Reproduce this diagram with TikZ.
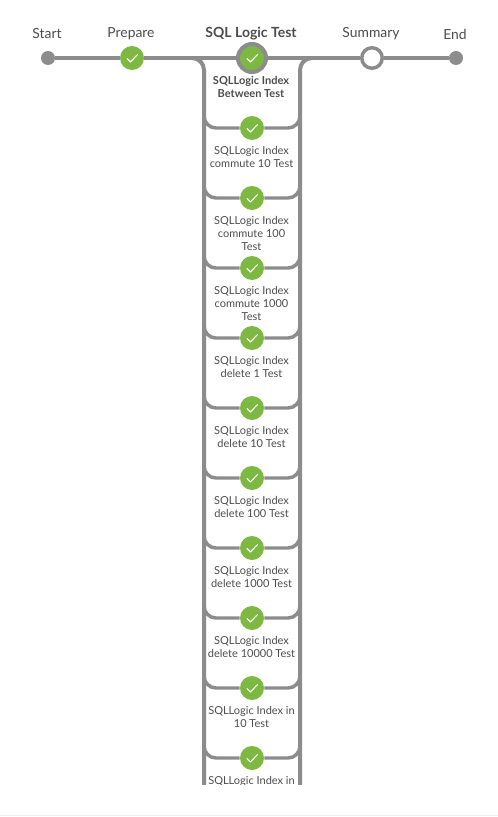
\documentclass[tikz,border=0pt]{standalone}
\usepackage{fontspec}
\setmainfont{Lato}
\usetikzlibrary{positioning}
\definecolor{pipegray}{HTML}{8C8C8C}
\definecolor{passgreen}{HTML}{7DB843}
\definecolor{textgray}{HTML}{4D4D4D}
\tikzset{
  pipeline/.style={draw=pipegray,line width=2.6pt},
  rail/.style={draw=pipegray,line width=3pt,rounded corners=9pt},
  branch/.style={draw=pipegray,line width=2.6pt,rounded corners=9pt},
  endpoint/.style={circle,fill=pipegray,inner sep=0pt,minimum size=10.5pt},
  passed/.style={circle,fill=passgreen,inner sep=0pt,minimum size=18pt},
  current/.style={circle,fill=passgreen,draw=pipegray,line width=3pt,inner sep=0pt,minimum size=21pt},
  pending/.style={circle,fill=white,draw=pipegray,line width=2.6pt,inner sep=0pt,minimum size=15.4pt},
  tick/.style={draw=white,line width=.8pt,line cap=round,line join=round},
  stagename/.style={text=textgray,font=\fontsize{10.4}{12}\selectfont},
  stepname/.style={text=textgray,align=center,anchor=north,font=\fontsize{8.25}{9.75}\selectfont}
}
\begin{document}
\begin{tikzpicture}[x=.75pt,y=-.75pt]
  \useasboundingbox (0,0) rectangle (498,817);
  \draw[black!6,line width=.75pt] (0,815.5) -- (498,815.5);
  % top row
  \node[endpoint] (start) at (48,58) {};
  \node[passed] (prepare) at (132,58) {};
  \node[current] (sqltest) at (252,58) {};
  \node[pending] (summary) at (372,58) {};
  \node[endpoint] (end) at (456,58) {};
  \node[stagename] at (47,34) {Start};
  \node[stagename] at (131,34) {Prepare};
  \node[stagename,font=\fontsize{10.5}{12}\selectfont\bfseries] at (251,33.5) {SQL Logic Test};
  \node[stagename] at (371,34) {Summary};
  \node[stagename] at (455,34) {End};
  \draw[pipeline] (start) -- (prepare);
  \draw[pipeline] (prepare) -- (sqltest);
  \draw[pipeline] (sqltest) -- (summary);
  \draw[pipeline] (summary) -- (end);
  \begin{scope}
    \clip (0,0) rectangle (498,784);
    \coordinate (leftjoin) at (192,58);
    \coordinate (rightjoin) at (312,58);
    \draw[rail] (leftjoin) -| (204,790);
    \draw[rail] (rightjoin) -| (300,790);
    \node[stepname,font=\fontsize{8.25}{9.75}\selectfont\bfseries] at (251,72) {SQLLogic Index\\Between Test};
    \foreach \i/\y/\txt in {1/128/{SQLLogic Index\\commute 10 Test},
        2/198/{SQLLogic Index\\commute 100\\Test},
        3/268/{SQLLogic Index\\commute 1000\\Test},
        4/338/{SQLLogic Index\\delete 1 Test},
        5/408/{SQLLogic Index\\delete 10 Test},
        6/478/{SQLLogic Index\\delete 100 Test},
        7/548/{SQLLogic Index\\delete 1000 Test},
        8/618/{SQLLogic Index\\delete 10000 Test},
        9/688/{SQLLogic Index in\\10 Test},
        10/758/{SQLLogic Index in}} {
      \node[passed] (n\i) at (252,\y) {};
      \coordinate (lb\i) at (204,\y-30);
      \coordinate (rb\i) at (300,\y-30);
      \draw[branch] (n\i) -| (lb\i);
      \draw[branch] (n\i) -| (rb\i);
      \draw[tick] ([shift={(-5,0.5)}]n\i.center) -- ([shift={(-1.5,4)}]n\i.center) -- ([shift={(5.5,-3.5)}]n\i.center);
      \node[stepname] at (251.5,\y+14) {\txt};
    }
  \end{scope}
  \draw[tick] ([shift={(-5,0.5)}]prepare.center) -- ([shift={(-1.5,4)}]prepare.center) -- ([shift={(5.5,-3.5)}]prepare.center);
  \draw[tick] ([shift={(-5,0.5)}]sqltest.center) -- ([shift={(-1.5,4)}]sqltest.center) -- ([shift={(5.5,-3.5)}]sqltest.center);
\end{tikzpicture}
\end{document}
